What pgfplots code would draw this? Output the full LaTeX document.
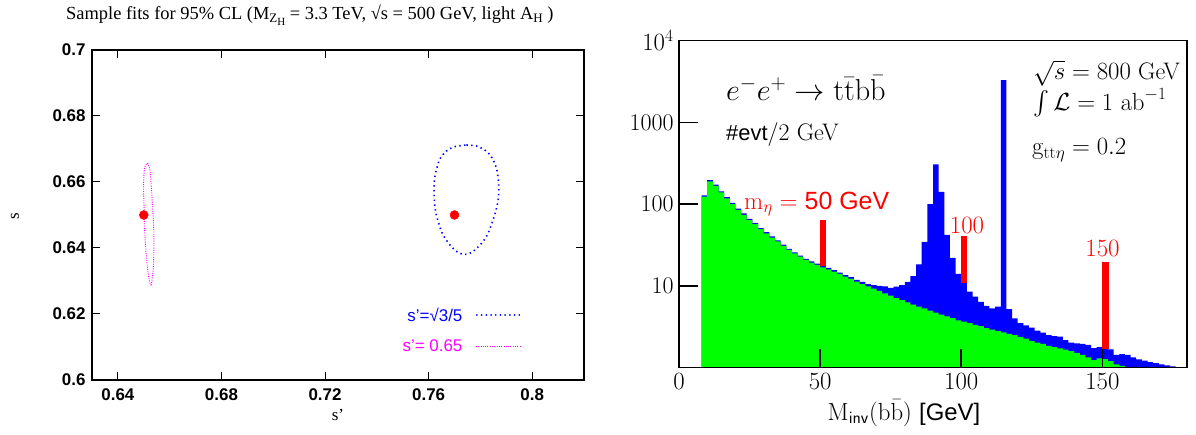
\documentclass[border=0pt]{standalone}
\usepackage[no-math]{fontspec}
\usepackage{pgfplots}
\pgfplotsset{compat=1.18}
\DeclareFontShape{OMX}{cmex}{m}{n}{<->cmex10}{}
\newfontfamily\lsans{Liberation Sans}
\newfontfamily\lserif{Liberation Serif}
\definecolor{myblue}{RGB}{0,0,255}
\definecolor{mygreen}{RGB}{0,255,0}
\definecolor{mymag}{RGB}{255,0,255}
\definecolor{myred}{RGB}{255,0,0}
\begin{document}
\begin{tikzpicture}[x=1bp,y=1bp]
\useasboundingbox (0,0) rectangle (1196,435);
% ---------------- left panel ----------------
\begin{axis}[
  at={(92bp,55bp)}, anchor=south west,
  scale only axis, width=492bp, height=330bp,
  xmin=0.63, xmax=0.82, ymin=0.6, ymax=0.7,
  xtick={0.64,0.68,0.72,0.76,0.8},
  xticklabels={0.64,0.68,0.72,0.76,0.8},
  ytick={0.6,0.62,0.64,0.66,0.68,0.7},
  yticklabels={0.6,0.62,0.64,0.66,0.68,0.7},
  tick align=inside, major tick length=8bp,
  tick style={black, line width=1bp},
  axis line style={line width=1.2bp},
  ticklabel style={font=\lsans\bfseries\fontsize{17}{17}\selectfont},
  xticklabel style={yshift=-5bp},
  yticklabel style={xshift=-3bp},
  clip=false,
  legend style={draw=none, fill=none, at={(0.876,0.225)}, anchor=north east,
     font=\lsans\fontsize{17}{20}\selectfont, row sep=13bp, column sep=11bp, inner sep=0pt},
  legend plot pos=right,
  legend cell align=right,
]
\addplot[color=myblue, line width=1.6bp, dash pattern=on 1.4bp off 3.4bp, smooth, tension=0.6,
  legend image code/.code={\draw[draw=myblue, line width=1.8bp, line cap=round, dash pattern=on 0.1bp off 4.6bp] (1bp,0bp) -- (46bp,0bp);}] coordinates {
(0.7746,0.6712)(0.7784,0.6709)(0.7820,0.6695)(0.7846,0.6672)(0.7862,0.6641)(0.7869,0.6606)
(0.7871,0.6571)(0.7866,0.6535)(0.7855,0.6500)(0.7842,0.6470)(0.7826,0.6439)(0.7804,0.6414)
(0.7778,0.6394)(0.7750,0.6381)(0.7720,0.6384)(0.7694,0.6399)(0.7673,0.6419)(0.7653,0.6444)
(0.7639,0.6475)(0.7627,0.6510)(0.7622,0.6545)(0.7621,0.6581)(0.7624,0.6616)(0.7633,0.6646)
(0.7645,0.6672)(0.7669,0.6694)(0.7701,0.6707)(0.7746,0.6712)};
\addlegendentry[text=myblue]{s’=√3/5}
\addplot[color=mymag, line width=1bp, dash pattern=on 0.9bp off 1.4bp, smooth, tension=0.6,
  legend image code/.code={\draw[draw=mymag, line width=1bp, dash pattern=on 0.9bp off 1.4bp] (0bp,0bp) -- (46bp,0bp);}] coordinates {
(0.6514,0.6657)(0.6524,0.6636)(0.6529,0.6586)(0.6534,0.6525)(0.6538,0.6465)(0.6539,0.6404)
(0.6537,0.6343)(0.6532,0.6303)(0.6528,0.6288)(0.6521,0.6303)(0.6514,0.6343)(0.6507,0.6404)
(0.6503,0.6465)(0.6501,0.6525)(0.6499,0.6586)(0.6502,0.6636)(0.6508,0.6652)(0.6514,0.6657)};
\addlegendentry[text=mymag]{s’= 0.65}
\addplot[only marks, mark=*, mark size=4.5bp, myred, forget plot] coordinates {(0.65,0.65) (0.77,0.65)};
\end{axis}
\node[anchor=west, inner sep=0] at (66,420) {\lserif\fontsize{18.5}{18.5}\selectfont Sample fits for 95\% CL (M\raisebox{-3.5bp}{\fontsize{13}{13}\selectfont Z\raisebox{-3bp}{\fontsize{11}{11}\selectfont H}} = 3.3 TeV, √s = 500 GeV, light A\raisebox{-3.5bp}{\fontsize{13}{13}\selectfont H} )};
\node[rotate=90, inner sep=0] at (15,219) {\lserif\fontsize{17}{17}\selectfont s};
\node[inner sep=0] at (338,20) {\lserif\fontsize{17}{17}\selectfont s’};
% ---------------- right panel ----------------
\begin{axis}[
  at={(679bp,67.3bp)}, anchor=south west,
  scale only axis, width=508bp, height=327bp,
  xmin=0, xmax=180, ymode=log, ymin=1, ymax=10000,
  xtick={0,50,100,150},
  ytick={10,100,1000,10000}, yticklabels={10,100,1000,$10^4$},
  yminorticks=false,
  tick pos=left,
  tick align=inside, major tick length=19bp,
  tick style={black, line width=1.5bp},
  axis line style={line width=1.5bp},
  ticklabel style={font=\fontsize{24}{24}\selectfont},
  xticklabel style={yshift=-2bp},
  yticklabel style={xshift=-2bp},
  axis on top,
]
\addplot[draw=none, fill=myblue, const plot mark left] coordinates {
(8,1)(8,128)(10,197)(12,173)(14,143)(16,122)(18,104)(20,88)(22,77)(24,66)(26,58.5)(28,51)(30,45.5)
(32,40.5)(34,36)(36,32)(38,28.5)(40,25.8)(42,23.5)(44,21.5)(46,20)(48,18.8)(50,17.6)(52,16.6)
(54,15.6)(56,14.6)(58,13.6)(60,12.8)(62,11.9)(64,11.2)(66,10.5)(68,10.2)(70,10.0)(72,9.9)(74,9.5)
(76,9.8)(78,10.2)(80,11.2)(82,13.2)(84,18.4)(86,34.5)(88,100)(90,308)(92,141)(94,42)(96,22)(98,14)
(100,10.8)(102,8.5)(104,7.4)(106,6.4)(108,5.7)(110,5.3)(112,5.6)(114,3300)(116,5.2)(118,4.0)
(120,3.5)(122,3.3)(124,3.1)(126,2.84)(128,2.68)(130,2.5)(132,2.44)(134,2.4)(136,2.18)(138,2.02)
(140,1.99)(142,1.95)(144,1.9)(146,1.73)(148,1.78)(150,1.7)(152,1.68)(154,1.43)(156,1.47)(158,1.43)
(160,1.34)(162,1.26)(164,1.22)(166,1.17)(168,1.14)(170,1.1)(172,1.07)(174,1.04)(176,1.04)(176,1)};
\addplot[draw=none, fill=mygreen, const plot mark left] coordinates {
(8,1)(8,124)(10,190)(12,168)(14,139)(16,118)(18,100)(20,85)(22,74)(24,64)(26,57)(28,49.4)(30,44)
(32,39)(34,35)(36,31)(38,27.6)(40,25)(42,22.9)(44,20.8)(46,19.3)(48,18.1)(50,16.9)(52,16)(54,15)
(56,14)(58,13)(60,12.2)(62,11.3)(64,10.5)(66,9.9)(68,9.3)(70,8.7)(72,8.1)(74,7.6)(76,7.1)(78,6.7)
(80,6.3)(82,5.9)(84,5.6)(86,5.3)(88,5.0)(90,4.7)(92,4.45)(94,4.25)(96,4.05)(98,3.8)(100,3.65)
(102,3.5)(104,3.35)(106,3.22)(108,3.05)(110,2.92)(112,2.8)(114,2.7)(116,2.6)(118,2.5)(120,2.39)
(122,2.27)(124,2.13)(126,2.02)(128,1.95)(130,1.85)(132,1.78)(134,1.72)(136,1.66)(138,1.59)
(140,1.52)(142,1.43)(144,1.34)(146,1.24)(148,1.3)(150,1.27)(152,1.2)(154,1.1)(156,1.05)(158,1.05)(158,1)};
\addplot[draw=none, fill=myred] coordinates {(50,17.6)(50,64)(52.2,64)(52.2,17.6)};
\addplot[draw=none, fill=myred] coordinates {(100,10.8)(100,41)(102.2,41)(102.2,10.8)};
\addplot[draw=none, fill=myred] coordinates {(150,1.7)(150,19.8)(152.2,19.8)(152.2,1.7)};
\end{axis}
\node[anchor=west, inner sep=0] at (726,347) {\scalebox{1.22}{\fontsize{24}{24}\selectfont $e^-e^+\rightarrow\mathrm{t}\bar{\mathrm{t}}\mathrm{b}\bar{\mathrm{b}}$}};
\node[anchor=west, inner sep=0] at (726,300) {\fontsize{24}{24}\selectfont{\lsans\fontsize{22}{22}\selectfont\#evt}/2 GeV};
\node[anchor=west, inner sep=0, text=myred] at (744,231) {\fontsize{24}{24}\selectfont $\mathrm{m}_\eta=$ {\lsans\fontsize{25}{25}\selectfont 50 GeV}};
\node[inner sep=0, text=myred] at (967,210) {\fontsize{25}{25}\selectfont 100};
\node[inner sep=0, text=myred] at (1102.5,187) {\fontsize{25}{25}\selectfont 150};
\node[anchor=west, inner sep=0] at (1033,362) {\fontsize{24}{24}\selectfont $\sqrt{s}=800$ GeV};
\node[anchor=west, inner sep=0] at (1033,332) {\fontsize{24}{24}\selectfont $\int\mathcal{L}=1\ \mathrm{ab}^{-1}$};
\node[anchor=west, inner sep=0] at (1032,285) {\fontsize{24}{24}\selectfont $\mathrm{g}_{\mathrm{tt}\eta}=0.2$};
\node[inner sep=0] at (904,22) {\fontsize{24}{24}\selectfont $\mathrm{M}_{\mathsf{inv}}(\mathrm{b}\bar{\mathrm{b}})$ {\lsans [GeV]}};
\end{tikzpicture}
\end{document}
